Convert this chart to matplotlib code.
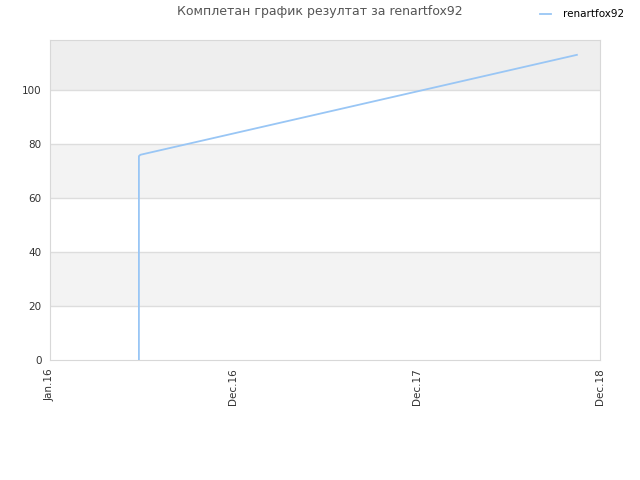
import matplotlib
matplotlib.use("Agg")
import matplotlib.pyplot as plt
import matplotlib.dates as mdates
from datetime import date, timedelta

# data
dates = [date(2016, 6, 26), date(2016, 6, 26), date(2016, 6, 29), date(2018, 11, 15)]
scores = [0, 75.5, 76, 113]
player = "renartfox92"
title = "Комплетан график резултат за renartfox92"

start = date(2016, 1, 1)
tick_dates = [start + timedelta(days=365 * i) for i in range(4)]

fig = plt.figure(figsize=(6.4, 4.8), dpi=100)
ax = fig.add_axes([50 / 640, 120 / 480, 550 / 640, 320 / 480])

ymax = 118.5
# alternating bands
bands = [(20, 40, "#f3f3f3"), (60, 80, "#f3f3f3"), (100, ymax, "#eeeeee")]
for lo, hi, c in bands:
    ax.axhspan(lo, hi, color=c, zorder=0, lw=0)
for y in [20, 40, 60, 80, 100]:
    ax.axhline(y, color="#dddddd", lw=1, zorder=1)

ax.plot(dates, scores, color="#99c6f5", lw=1.3, label=player, zorder=3)

ax.set_xlim(start, tick_dates[-1])
ax.set_ylim(0, ymax)
ax.set_yticks([0, 20, 40, 60, 80, 100])
ax.set_xticks(tick_dates)
ax.xaxis.set_major_formatter(mdates.DateFormatter("%b.%y"))
ax.tick_params(length=0, labelsize=7.5, colors="#333333", pad=6)
for lab in ax.get_xticklabels():
    lab.set_rotation(90)
for s in ax.spines.values():
    s.set_color("#d8d8d8")

fig.text(0.5, 1 - 12 / 480, title, ha="center", va="center", fontsize=9, color="#555555")
fig.legend(loc="upper right", bbox_to_anchor=(0.99, 1.0), frameon=False,
           fontsize=7.5, handlelength=1.0, handletextpad=1.2)

fig.savefig("out.png", dpi=100)
